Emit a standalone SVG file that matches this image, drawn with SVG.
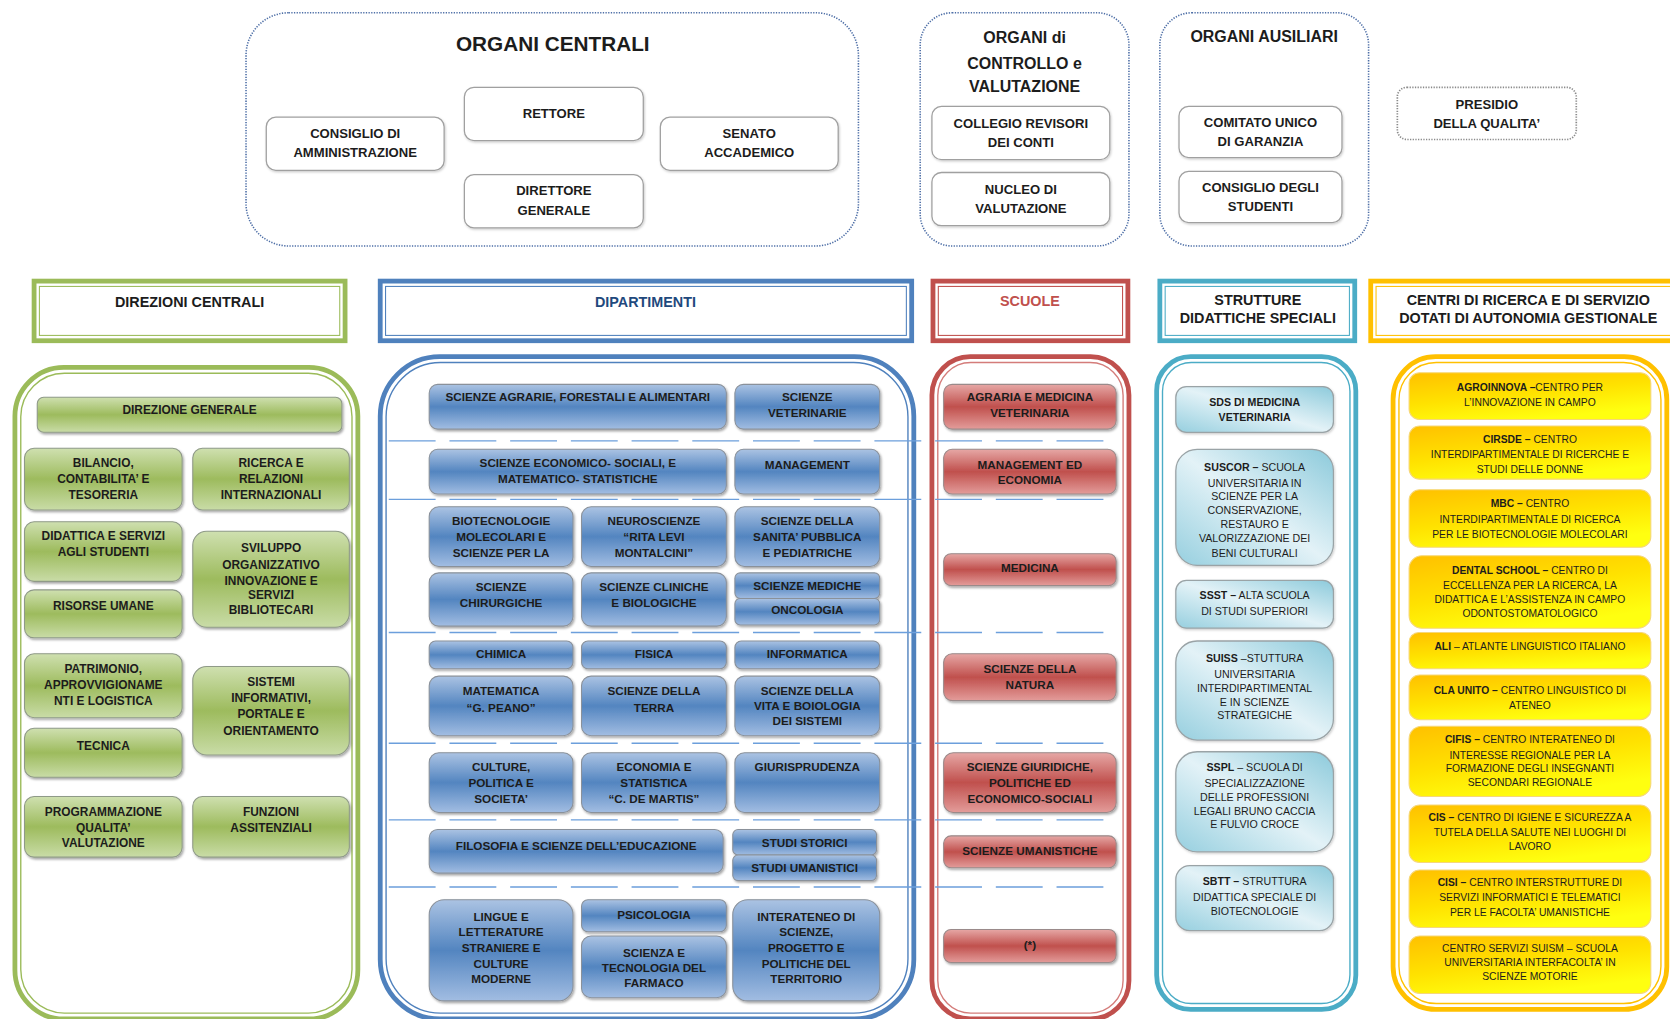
<svg xmlns="http://www.w3.org/2000/svg" width="1670" height="1019" viewBox="0 0 1670 1019">
<defs>
<linearGradient id="gG" x1="0" y1="0" x2="0" y2="1"><stop offset="0" stop-color="#cfe0b0"/><stop offset="0.5" stop-color="#9dbb5d"/><stop offset="1" stop-color="#c9dca7"/></linearGradient>
<linearGradient id="gB" x1="0" y1="0" x2="0" y2="1"><stop offset="0" stop-color="#abc3e3"/><stop offset="0.5" stop-color="#5385c0"/><stop offset="1" stop-color="#a2bde2"/></linearGradient>
<linearGradient id="gR" x1="0" y1="0" x2="0" y2="1"><stop offset="0" stop-color="#e6a7a5"/><stop offset="0.5" stop-color="#c0504d"/><stop offset="1" stop-color="#e39c9a"/></linearGradient>
<linearGradient id="gT" x1="0" y1="1" x2="1" y2="0"><stop offset="0" stop-color="#96cfdf"/><stop offset="0.5" stop-color="#e3f2f7"/><stop offset="1" stop-color="#8ccadb"/></linearGradient>
<linearGradient id="gO" x1="0" y1="0" x2="0.5" y2="1"><stop offset="0" stop-color="#ffc000"/><stop offset="0.55" stop-color="#ffe200"/><stop offset="1" stop-color="#ffff10"/></linearGradient>
<filter id="sh" x="-10%" y="-10%" width="125%" height="135%"><feDropShadow dx="1.2" dy="1.6" stdDeviation="1" flood-color="#000" flood-opacity="0.35"/></filter>
<filter id="sh2" x="-10%" y="-10%" width="125%" height="135%"><feDropShadow dx="0.8" dy="1.2" stdDeviation="1" flood-color="#000" flood-opacity="0.2"/></filter>
</defs>
<style>
text{font-family:"Liberation Sans",Arial,sans-serif;text-anchor:middle;fill:#1c1c1c}
.dot{fill:none;stroke:#4d6ea6;stroke-width:1.5;stroke-dasharray:1.2 1.3}
.dotg{fill:none;stroke:#8a8a8a;stroke-width:1.6;stroke-dasharray:1.2 1.3}
.wn{fill:#fff;stroke:#a0a0a0;stroke-width:1.2;filter:url(#sh2)}
.t-title{font-size:19.5px;font-weight:bold}
.t-org{font-size:15px;font-weight:bold}
.t-top{font-size:12.3px;font-weight:bold}
.hd{font-size:13.5px;font-weight:bold}
.gn{fill:url(#gG);stroke:#8f9a88;stroke-width:1;filter:url(#sh)}
.bn{fill:url(#gB);stroke:#8a919a;stroke-width:1;filter:url(#sh)}
.rn{fill:url(#gR);stroke:#9a8a8a;stroke-width:1;filter:url(#sh)}
.tn{fill:url(#gT);stroke:#9aa3a6;stroke-width:1.2;filter:url(#sh2)}
.on{fill:url(#gO);stroke:#f6d77a;stroke-width:1}
.tx{font-size:11px;font-weight:bold}
.txg{font-size:11.2px;font-weight:bold}
.tt{font-size:10px}
.to{font-size:9.7px}
.b{font-weight:bold}
.sep{stroke:#6c9fdc;stroke-width:1.3;stroke-dasharray:44 13;fill:none}
</style>
<rect width="1670" height="1019" fill="#ffffff"/>
<g transform="scale(1.06505 1.06479)">

<!-- TOP -->
<g id="organi-centrali">
<rect class="dot" x="231" y="12" width="575" height="219" rx="40"/>
<text class="t-title" x="519" y="48">ORGANI CENTRALI</text>
</g>
<g id="consiglio-amministrazione"><rect class="wn" x="250" y="110" width="167" height="50" rx="9"/><text class="t-top"><tspan x="333.5" y="129.5">CONSIGLIO DI</tspan><tspan x="333.5" y="147.5">AMMINISTRAZIONE</tspan></text></g>
<g id="rettore"><rect class="wn" x="436" y="82" width="168" height="50" rx="9"/><text class="t-top" x="520" y="110.5">RETTORE</text></g>
<g id="senato-accademico"><rect class="wn" x="620" y="110" width="167" height="50" rx="9"/><text class="t-top"><tspan x="703.5" y="129.5">SENATO</tspan><tspan x="703.5" y="147.5">ACCADEMICO</tspan></text></g>
<g id="direttore-generale"><rect class="wn" x="436" y="164" width="168" height="50" rx="9"/><text class="t-top"><tspan x="520" y="183.5">DIRETTORE</tspan><tspan x="520" y="201.5">GENERALE</tspan></text></g>

<g id="organi-controllo">
<rect class="dot" x="864" y="12" width="196" height="219" rx="30"/>
<text class="t-org"><tspan x="962" y="40.5">ORGANI di</tspan><tspan x="962" y="64.5">CONTROLLO e</tspan><tspan x="962" y="86.5">VALUTAZIONE</tspan></text>
</g>
<g id="collegio-revisori"><rect class="wn" x="875" y="100" width="167" height="50" rx="9"/><text class="t-top"><tspan x="958.5" y="120.5">COLLEGIO REVISORI</tspan><tspan x="958.5" y="138.5">DEI CONTI</tspan></text></g>
<g id="nucleo-valutazione"><rect class="wn" x="875" y="162" width="167" height="50" rx="9"/><text class="t-top"><tspan x="958.5" y="182.5">NUCLEO DI</tspan><tspan x="958.5" y="200.5">VALUTAZIONE</tspan></text></g>

<g id="organi-ausiliari">
<rect class="dot" x="1089" y="12" width="196" height="219" rx="30"/>
<text class="t-org" x="1187" y="39.5">ORGANI AUSILIARI</text>
</g>
<g id="comitato-unico"><rect class="wn" x="1107" y="100" width="153" height="48" rx="9"/><text class="t-top"><tspan x="1183.5" y="119.5">COMITATO UNICO</tspan><tspan x="1183.5" y="137.5">DI GARANZIA</tspan></text></g>
<g id="consiglio-studenti"><rect class="wn" x="1107" y="161" width="153" height="48" rx="9"/><text class="t-top"><tspan x="1183.5" y="180.5">CONSIGLIO DEGLI</tspan><tspan x="1183.5" y="198.5">STUDENTI</tspan></text></g>

<g id="presidio-qualita"><rect class="dotg" x="1312" y="82" width="168" height="49" rx="9"/><text class="t-top"><tspan x="1396" y="102.5">PRESIDIO</tspan><tspan x="1396" y="120.5">DELLA QUALITA’</tspan></text></g>

<!-- HEADERS -->
<g id="hdr-direzioni">
<rect x="32" y="264" width="292" height="56" fill="#fff" stroke="#9bbb59" stroke-width="4.5"/>
<rect x="37" y="269" width="282" height="46" fill="none" stroke="#9bbb59" stroke-width="1"/>
<text class="hd" x="178" y="288">DIREZIONI CENTRALI</text>
</g>
<g id="hdr-dipartimenti">
<rect x="357" y="264" width="499" height="56" fill="#fff" stroke="#4f81bd" stroke-width="4.5"/>
<rect x="362" y="269" width="489" height="46" fill="none" stroke="#4f81bd" stroke-width="1"/>
<text class="hd" x="606" y="288" style="fill:#1f497d">DIPARTIMENTI</text>
</g>
<g id="hdr-scuole">
<rect x="876" y="264" width="183" height="56" fill="#fff" stroke="#c0504d" stroke-width="4.5"/>
<rect x="881" y="269" width="173" height="46" fill="none" stroke="#c0504d" stroke-width="1"/>
<text class="hd" x="967" y="287" style="fill:#c0504d">SCUOLE</text>
</g>
<g id="hdr-strutture">
<rect x="1089" y="264" width="183" height="56" fill="#fff" stroke="#4bacc6" stroke-width="4.5"/>
<rect x="1094" y="269" width="173" height="46" fill="none" stroke="#4bacc6" stroke-width="1"/>
<text class="hd"><tspan x="1181" y="286">STRUTTURE</tspan><tspan x="1181" y="303">DIDATTICHE SPECIALI</tspan></text>
</g>
<g id="hdr-centri">
<rect x="1287" y="264" width="320" height="56" fill="#fff" stroke="#ffc000" stroke-width="4.5"/>
<rect x="1292" y="269" width="310" height="46" fill="none" stroke="#ffc000" stroke-width="1"/>
<text class="hd"><tspan x="1435" y="286">CENTRI DI RICERCA E DI SERVIZIO</tspan><tspan x="1435" y="303">DOTATI DI AUTONOMIA GESTIONALE</tspan></text>
</g>

<!-- CONTAINERS -->
<g id="box-direzioni">
<rect x="14" y="345" width="322" height="612" rx="46" fill="#fff" stroke="#9bbb59" stroke-width="4.5"/>
<rect x="19.5" y="350.5" width="311" height="601" rx="41" fill="none" stroke="#9bbb59" stroke-width="1.3"/>
</g>
<g id="box-dipartimenti">
<rect x="357" y="335" width="501" height="622" rx="56" fill="#fff" stroke="#4f81bd" stroke-width="4.5"/>
<rect x="362.5" y="340.5" width="490" height="611" rx="51" fill="none" stroke="#4f81bd" stroke-width="1.3"/>
</g>
<g id="box-scuole">
<rect x="875" y="335" width="185" height="622" rx="36" fill="#fff" stroke="#c0504d" stroke-width="4.5"/>
<rect x="880.5" y="340.5" width="174" height="611" rx="31" fill="none" stroke="#d47c7a" stroke-width="1.3"/>
</g>
<g id="box-strutture">
<rect x="1086" y="335" width="187" height="613" rx="32" fill="#fff" stroke="#4bacc6" stroke-width="4.5"/>
<rect x="1091.5" y="340.5" width="176" height="602" rx="27" fill="none" stroke="#4bacc6" stroke-width="1.3"/>
</g>
<g id="box-centri">
<rect x="1308" y="335" width="257" height="613" rx="40" fill="#fff" stroke="#ffc000" stroke-width="4.5"/>
<rect x="1313.5" y="340.5" width="246" height="602" rx="35" fill="none" stroke="#ffc000" stroke-width="1.3"/>
</g>

<!-- separators -->
<g id="connectors">
<line class="sep" x1="365" y1="414" x2="1045" y2="414"/>
<line class="sep" x1="365" y1="469" x2="1045" y2="469"/>
<line class="sep" x1="365" y1="594" x2="1045" y2="594"/>
<line class="sep" x1="365" y1="698" x2="1045" y2="698"/>
<line class="sep" x1="365" y1="770" x2="1045" y2="770"/>
<line class="sep" x1="365" y1="833" x2="1045" y2="833"/>
</g>

<!-- GREEN -->
<g id="direzione-generale"><rect class="gn" x="35" y="373" width="286" height="33" rx="6"/><text class="txg" x="178" y="389">DIREZIONE GENERALE</text></g>
<g id="bilancio"><rect class="gn" x="23" y="421" width="148" height="58" rx="9"/><text class="txg"><tspan x="97" y="439">BILANCIO,</tspan><tspan x="97" y="454">CONTABILITA’ E</tspan><tspan x="97" y="469">TESORERIA</tspan></text></g>
<g id="ricerca"><rect class="gn" x="181" y="421" width="147" height="58" rx="9"/><text class="txg"><tspan x="254.5" y="439">RICERCA E</tspan><tspan x="254.5" y="454">RELAZIONI</tspan><tspan x="254.5" y="469">INTERNAZIONALI</tspan></text></g>
<g id="didattica"><rect class="gn" x="23" y="490" width="148" height="56" rx="9"/><text class="txg"><tspan x="97" y="507">DIDATTICA E SERVIZI</tspan><tspan x="97" y="522">AGLI STUDENTI</tspan></text></g>
<g id="sviluppo"><rect class="gn" x="181" y="499" width="147" height="90" rx="13"/><text class="txg"><tspan x="254.5" y="518">SVILUPPO</tspan><tspan x="254.5" y="534">ORGANIZZATIVO</tspan><tspan x="254.5" y="549">INNOVAZIONE E</tspan><tspan x="254.5" y="563">SERVIZI</tspan><tspan x="254.5" y="577">BIBLIOTECARI</tspan></text></g>
<g id="risorse-umane"><rect class="gn" x="23" y="554" width="148" height="45" rx="9"/><text class="txg" x="97" y="573">RISORSE UMANE</text></g>
<g id="patrimonio"><rect class="gn" x="23" y="614" width="148" height="60" rx="9"/><text class="txg"><tspan x="97" y="632">PATRIMONIO,</tspan><tspan x="97" y="647">APPROVVIGIONAME</tspan><tspan x="97" y="662">NTI E LOGISTICA</tspan></text></g>
<g id="sistemi-informativi"><rect class="gn" x="181" y="626" width="147" height="83" rx="13"/><text class="txg"><tspan x="254.5" y="644">SISTEMI</tspan><tspan x="254.5" y="659">INFORMATIVI,</tspan><tspan x="254.5" y="674">PORTALE E</tspan><tspan x="254.5" y="690">ORIENTAMENTO</tspan></text></g>
<g id="tecnica"><rect class="gn" x="23" y="684" width="148" height="46" rx="9"/><text class="txg" x="97" y="704">TECNICA</text></g>
<g id="programmazione"><rect class="gn" x="23" y="748" width="148" height="57" rx="9"/><text class="txg"><tspan x="97" y="766">PROGRAMMAZIONE</tspan><tspan x="97" y="781">QUALITA’</tspan><tspan x="97" y="795">VALUTAZIONE</tspan></text></g>
<g id="funzioni-assistenziali"><rect class="gn" x="181" y="748" width="147" height="57" rx="9"/><text class="txg"><tspan x="254.5" y="766">FUNZIONI</tspan><tspan x="254.5" y="781">ASSITENZIALI</tspan></text></g>

<!-- BLUE -->
<g id="scienze-agrarie"><rect class="bn" x="403" y="361" width="279" height="42" rx="8"/><text class="tx" x="542.5" y="377">SCIENZE AGRARIE, FORESTALI E ALIMENTARI</text></g>
<g id="scienze-veterinarie"><rect class="bn" x="690" y="361" width="136" height="42" rx="8"/><text class="tx"><tspan x="758" y="377">SCIENZE</tspan><tspan x="758" y="392">VETERINARIE</tspan></text></g>
<g id="scienze-economico-sociali"><rect class="bn" x="403" y="422" width="279" height="42" rx="8"/><text class="tx"><tspan x="542.5" y="439">SCIENZE ECONOMICO- SOCIALI, E</tspan><tspan x="542.5" y="454">MATEMATICO- STATISTICHE</tspan></text></g>
<g id="management"><rect class="bn" x="690" y="422" width="136" height="42" rx="8"/><text class="tx" x="758" y="440">MANAGEMENT</text></g>
<g id="biotecnologie"><rect class="bn" x="403" y="476" width="135" height="56" rx="9"/><text class="tx"><tspan x="470.5" y="493">BIOTECNOLOGIE</tspan><tspan x="470.5" y="508">MOLECOLARI E</tspan><tspan x="470.5" y="523">SCIENZE PER LA</tspan></text></g>
<g id="neuroscienze"><rect class="bn" x="546" y="476" width="136" height="56" rx="9"/><text class="tx"><tspan x="614" y="493">NEUROSCIENZE</tspan><tspan x="614" y="508">“RITA LEVI</tspan><tspan x="614" y="523">MONTALCINI”</tspan></text></g>
<g id="sanita-pubblica"><rect class="bn" x="690" y="476" width="136" height="56" rx="9"/><text class="tx"><tspan x="758" y="493">SCIENZE DELLA</tspan><tspan x="758" y="508">SANITA’ PUBBLICA</tspan><tspan x="758" y="523">E PEDIATRICHE</tspan></text></g>
<g id="scienze-chirurgiche"><rect class="bn" x="403" y="538" width="135" height="50" rx="9"/><text class="tx"><tspan x="470.5" y="555">SCIENZE</tspan><tspan x="470.5" y="570">CHIRURGICHE</tspan></text></g>
<g id="scienze-cliniche"><rect class="bn" x="546" y="538" width="136" height="50" rx="9"/><text class="tx"><tspan x="614" y="555">SCIENZE CLINICHE</tspan><tspan x="614" y="570">E BIOLOGICHE</tspan></text></g>
<g id="scienze-mediche"><rect class="bn" x="690" y="538" width="136" height="24" rx="5"/><text class="tx" x="758" y="554.5">SCIENZE MEDICHE</text></g>
<g id="oncologia"><rect class="bn" x="690" y="562" width="136" height="25" rx="5"/><text class="tx" x="758" y="577">ONCOLOGIA</text></g>
<g id="chimica"><rect class="bn" x="403" y="602" width="135" height="26" rx="6"/><text class="tx" x="470.5" y="618">CHIMICA</text></g>
<g id="fisica"><rect class="bn" x="546" y="602" width="136" height="26" rx="6"/><text class="tx" x="614" y="618">FISICA</text></g>
<g id="informatica"><rect class="bn" x="690" y="602" width="136" height="26" rx="6"/><text class="tx" x="758" y="618">INFORMATICA</text></g>
<g id="matematica"><rect class="bn" x="403" y="635" width="135" height="56" rx="9"/><text class="tx"><tspan x="470.5" y="653">MATEMATICA</tspan><tspan x="470.5" y="669">“G. PEANO”</tspan></text></g>
<g id="scienze-terra"><rect class="bn" x="546" y="635" width="136" height="56" rx="9"/><text class="tx"><tspan x="614" y="653">SCIENZE DELLA</tspan><tspan x="614" y="669">TERRA</tspan></text></g>
<g id="scienze-vita"><rect class="bn" x="690" y="635" width="136" height="56" rx="9"/><text class="tx"><tspan x="758" y="653">SCIENZE DELLA</tspan><tspan x="758" y="667">VITA E BOIOLOGIA</tspan><tspan x="758" y="681">DEI SISTEMI</tspan></text></g>
<g id="culture-politica"><rect class="bn" x="403" y="707" width="135" height="56" rx="9"/><text class="tx"><tspan x="470.5" y="724">CULTURE,</tspan><tspan x="470.5" y="739">POLITICA E</tspan><tspan x="470.5" y="754">SOCIETA’</tspan></text></g>
<g id="economia-statistica"><rect class="bn" x="546" y="707" width="136" height="56" rx="9"/><text class="tx"><tspan x="614" y="724">ECONOMIA E</tspan><tspan x="614" y="739">STATISTICA</tspan><tspan x="614" y="754">“C. DE MARTIS”</tspan></text></g>
<g id="giurisprudenza"><rect class="bn" x="690" y="707" width="136" height="56" rx="9"/><text class="tx" x="758" y="724">GIURISPRUDENZA</text></g>
<g id="filosofia"><rect class="bn" x="403" y="779" width="276" height="41" rx="8"/><text class="tx" x="541" y="798">FILOSOFIA E SCIENZE DELL’EDUCAZIONE</text></g>
<g id="studi-storici"><rect class="bn" x="688" y="779" width="135" height="24" rx="5"/><text class="tx" x="755.5" y="795">STUDI STORICI</text></g>
<g id="studi-umanistici"><rect class="bn" x="688" y="803" width="135" height="24" rx="5"/><text class="tx" x="755.5" y="819">STUDI UMANISTICI</text></g>
<g id="lingue"><rect class="bn" x="403" y="845" width="135" height="95" rx="14"/><text class="tx"><tspan x="470.5" y="865">LINGUE E</tspan><tspan x="470.5" y="879">LETTERATURE</tspan><tspan x="470.5" y="894">STRANIERE E</tspan><tspan x="470.5" y="909">CULTURE</tspan><tspan x="470.5" y="923">MODERNE</tspan></text></g>
<g id="psicologia"><rect class="bn" x="546" y="845" width="136" height="30" rx="6"/><text class="tx" x="614" y="863">PSICOLOGIA</text></g>
<g id="farmaco"><rect class="bn" x="546" y="879" width="136" height="58" rx="9"/><text class="tx"><tspan x="614" y="899">SCIENZA E</tspan><tspan x="614" y="913">TECNOLOGIA DEL</tspan><tspan x="614" y="927">FARMACO</tspan></text></g>
<g id="interateneo"><rect class="bn" x="688" y="845" width="138" height="95" rx="14"/><text class="tx"><tspan x="757" y="865">INTERATENEO DI</tspan><tspan x="757" y="879">SCIENZE,</tspan><tspan x="757" y="894">PROGETTO E</tspan><tspan x="757" y="909">POLITICHE DEL</tspan><tspan x="757" y="923">TERRITORIO</tspan></text></g>

<!-- RED -->
<g id="agraria-medicina-veterinaria"><rect class="rn" x="886" y="361" width="162" height="42" rx="8"/><text class="tx"><tspan x="967" y="377">AGRARIA E MEDICINA</tspan><tspan x="967" y="392">VETERINARIA</tspan></text></g>
<g id="management-economia"><rect class="rn" x="886" y="422" width="162" height="42" rx="8"/><text class="tx"><tspan x="967" y="440">MANAGEMENT ED</tspan><tspan x="967" y="455">ECONOMIA</tspan></text></g>
<g id="medicina"><rect class="rn" x="886" y="520" width="162" height="30" rx="7"/><text class="tx" x="967" y="537">MEDICINA</text></g>
<g id="scienze-natura"><rect class="rn" x="886" y="614" width="162" height="44" rx="8"/><text class="tx"><tspan x="967" y="632">SCIENZE DELLA</tspan><tspan x="967" y="647">NATURA</tspan></text></g>
<g id="scienze-giuridiche"><rect class="rn" x="886" y="707" width="162" height="56" rx="9"/><text class="tx"><tspan x="967" y="724">SCIENZE GIURIDICHE,</tspan><tspan x="967" y="739">POLITICHE ED</tspan><tspan x="967" y="754">ECONOMICO-SOCIALI</tspan></text></g>
<g id="scienze-umanistiche"><rect class="rn" x="886" y="785" width="162" height="30" rx="7"/><text class="tx" x="967" y="803">SCIENZE UMANISTICHE</text></g>
<g id="asterisco"><rect class="rn" x="886" y="873" width="162" height="31" rx="7"/><text class="tx" x="967" y="891">(*)</text></g>

<!-- TEAL -->
<g id="sds-medicina-veterinaria"><rect class="tn" x="1104" y="363" width="148" height="43" rx="10"/><text class="tt b"><tspan x="1178" y="381">SDS DI MEDICINA</tspan><tspan x="1178" y="395">VETERINARIA</tspan></text></g>
<g id="suscor"><rect class="tn" x="1104" y="422" width="148" height="109" rx="20"/><text class="tt"><tspan x="1178" y="442"><tspan class="b">SUSCOR –</tspan> SCUOLA</tspan><tspan x="1178" y="457">UNIVERSITARIA IN</tspan><tspan x="1178" y="470">SCIENZE PER LA</tspan><tspan x="1178" y="483">CONSERVAZIONE,</tspan><tspan x="1178" y="496">RESTAURO E</tspan><tspan x="1178" y="509">VALORIZZAZIONE DEI</tspan><tspan x="1178" y="523">BENI CULTURALI</tspan></text></g>
<g id="ssst"><rect class="tn" x="1104" y="545" width="148" height="45" rx="10"/><text class="tt"><tspan x="1178" y="563"><tspan class="b">SSST –</tspan> ALTA SCUOLA</tspan><tspan x="1178" y="578">DI STUDI SUPERIORI</tspan></text></g>
<g id="suiss"><rect class="tn" x="1104" y="602" width="148" height="93" rx="20"/><text class="tt"><tspan x="1178" y="622"><tspan class="b">SUISS</tspan> –STUTTURA</tspan><tspan x="1178" y="637">UNIVERSITARIA</tspan><tspan x="1178" y="650">INTERDIPARTIMENTAL</tspan><tspan x="1178" y="663">E IN SCIENZE</tspan><tspan x="1178" y="675">STRATEGICHE</tspan></text></g>
<g id="sspl"><rect class="tn" x="1104" y="706" width="148" height="94" rx="20"/><text class="tt"><tspan x="1178" y="724"><tspan class="b">SSPL</tspan> – SCUOLA DI</tspan><tspan x="1178" y="739">SPECIALIZZAZIONE</tspan><tspan x="1178" y="752">DELLE PROFESSIONI</tspan><tspan x="1178" y="765">LEGALI BRUNO CACCIA</tspan><tspan x="1178" y="778">E FULVIO CROCE</tspan></text></g>
<g id="sbtt"><rect class="tn" x="1104" y="813" width="148" height="61" rx="13"/><text class="tt"><tspan x="1178" y="831"><tspan class="b">SBTT –</tspan> STRUTTURA</tspan><tspan x="1178" y="846">DIDATTICA SPECIALE DI</tspan><tspan x="1178" y="859">BIOTECNOLOGIE</tspan></text></g>

<!-- ORANGE -->
<g id="agroinnova"><rect class="on" x="1323" y="350" width="227" height="44" rx="10"/><text class="to"><tspan x="1436.5" y="367.5"><tspan class="b">AGROINNOVA –</tspan>CENTRO PER</tspan><tspan x="1436.5" y="381.5">L’INNOVAZIONE IN CAMPO</tspan></text></g>
<g id="cirsde"><rect class="on" x="1323" y="400" width="227" height="50" rx="10"/><text class="to"><tspan x="1436.5" y="416.5"><tspan class="b">CIRSDE –</tspan> CENTRO</tspan><tspan x="1436.5" y="430.5">INTERDIPARTIMENTALE DI RICERCHE E</tspan><tspan x="1436.5" y="444.5">STUDI DELLE DONNE</tspan></text></g>
<g id="mbc"><rect class="on" x="1323" y="460" width="227" height="54" rx="10"/><text class="to"><tspan x="1436.5" y="476.5"><tspan class="b">MBC –</tspan> CENTRO</tspan><tspan x="1436.5" y="491.5">INTERDIPARTIMENTALE DI RICERCA</tspan><tspan x="1436.5" y="505.5">PER LE BIOTECNOLOGIE MOLECOLARI</tspan></text></g>
<g id="dental-school"><rect class="on" x="1323" y="522" width="227" height="68" rx="12"/><text class="to"><tspan x="1436.5" y="539.5"><tspan class="b">DENTAL SCHOOL –</tspan> CENTRO DI</tspan><tspan x="1436.5" y="553.5">ECCELLENZA PER LA RICERCA, LA</tspan><tspan x="1436.5" y="566.5">DIDATTICA E L’ASSISTENZA IN CAMPO</tspan><tspan x="1436.5" y="579.5">ODONTOSTOMATOLOGICO</tspan></text></g>
<g id="ali"><rect class="on" x="1323" y="594" width="227" height="34" rx="9"/><text class="to" x="1436.5" y="610.5"><tspan class="b">ALI</tspan> – ATLANTE LINGUISTICO ITALIANO</text></g>
<g id="cla-unito"><rect class="on" x="1323" y="634" width="227" height="42" rx="10"/><text class="to"><tspan x="1436.5" y="651.5"><tspan class="b">CLA UNITO –</tspan> CENTRO LINGUISTICO DI</tspan><tspan x="1436.5" y="665.5">ATENEO</tspan></text></g>
<g id="cifis"><rect class="on" x="1323" y="682" width="227" height="66" rx="12"/><text class="to"><tspan x="1436.5" y="697.5"><tspan class="b">CIFIS –</tspan> CENTRO INTERATENEO DI</tspan><tspan x="1436.5" y="712.5">INTERESSE REGIONALE PER LA</tspan><tspan x="1436.5" y="725.5">FORMAZIONE DEGLI INSEGNANTI</tspan><tspan x="1436.5" y="738.5">SECONDARI REGIONALE</tspan></text></g>
<g id="cis"><rect class="on" x="1323" y="756" width="227" height="54" rx="10"/><text class="to"><tspan x="1436.5" y="771.5"><tspan class="b">CIS –</tspan> CENTRO DI IGIENE E SICUREZZA A</tspan><tspan x="1436.5" y="785.5">TUTELA DELLA SALUTE NEI LUOGHI DI</tspan><tspan x="1436.5" y="798.5">LAVORO</tspan></text></g>
<g id="cisi"><rect class="on" x="1323" y="817" width="227" height="54" rx="10"/><text class="to"><tspan x="1436.5" y="832.5"><tspan class="b">CISI –</tspan> CENTRO INTERSTRUTTURE DI</tspan><tspan x="1436.5" y="846.5">SERVIZI INFORMATICI E TELEMATICI</tspan><tspan x="1436.5" y="860.5">PER LE FACOLTA’ UMANISTICHE</tspan></text></g>
<g id="suism"><rect class="on" x="1323" y="879" width="227" height="54" rx="10"/><text class="to"><tspan x="1436.5" y="894.5">CENTRO SERVIZI SUISM – SCUOLA</tspan><tspan x="1436.5" y="907.5">UNIVERSITARIA INTERFACOLTA’ IN</tspan><tspan x="1436.5" y="920.5">SCIENZE MOTORIE</tspan></text></g>

</g>
</svg>
